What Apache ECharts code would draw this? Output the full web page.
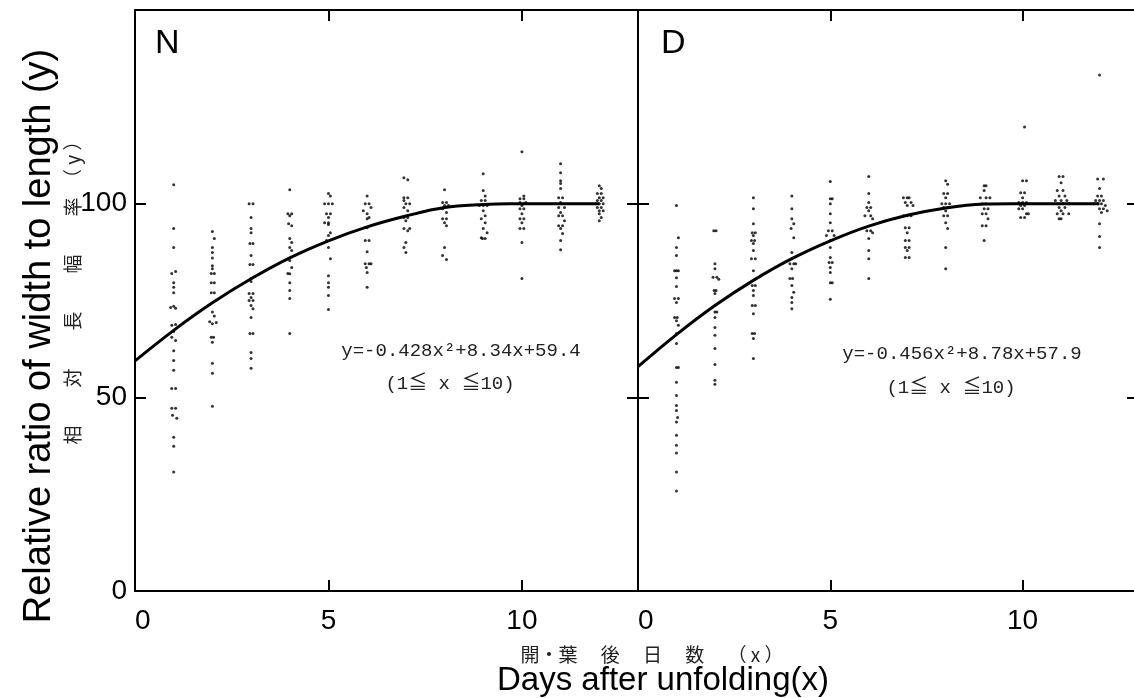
<!DOCTYPE html>
<html>
<head>
<meta charset="utf-8">
<script src="https://cdn.jsdelivr.net/npm/echarts@6/dist/echarts.min.js"></script>
<style>
html,body{margin:0;padding:0;background:#fff;}
#chart{width:1134px;height:698px;}
</style>
</head>
<body>
<div id="chart"></div>
<script>
// ---- data ----
const xTicks = [0, 5, 10];
const yTicks = [0, 50, 100];
const panelNames = ['N', 'D'];
const equations = ['y=-0.428x²+8.34x+59.4', 'y=-0.456x²+8.78x+57.9'];
const ranges = ['(1≦ x ≦10)', '(1≦ x ≦10)'];
const yTitleEn = 'Relative ratio of width to length (y)';
const yTitleJa = '相　　対　　長　　幅　　率　（ y ）';
const xTitleJa = '開・葉　 後　 日　 数　 （ x ）';
const xTitleEn = 'Days after unfolding(x)';

// fitted curves, read at each day
const curveDays = [0, 1, 2, 3, 4, 5, 6, 7, 8, 9, 9.7, 10, 11, 12];
const curveN = [59.4, 67.3, 74.4, 80.6, 86.0, 90.4, 94.0, 96.8, 99.0, 99.8, 100, 100, 100, 100];
const curveD = [57.9, 66.2, 73.7, 80.2, 85.8, 90.4, 94.2, 97.0, 98.9, 99.9, 100, 100, 100, 100];

// observations N  [day, ratio]
const pointsN = [
[1.0,104.9],[1.0,93.6],[1.0,88.7],[0.95,82],[1.05,82.5],[1.0,79.6],[1.0,78.4],[1.0,77],[0.92,73.2],[1.0,73.5],[1.05,73],[0.95,68.6],[1.05,68.8],[1.0,67],[0.95,65.5],[1.05,64.7],[1.0,62],[1.0,59.5],[1.0,57],[0.95,52.3],[1.05,52.3],[0.95,47.2],[1.05,47.2],[0.97,45.4],[1.08,44.6],[1.0,39.7],[1.0,37.4],[1.0,30.7],
[2.0,92.8],[2.05,91],[2.0,88.7],[2.0,87.4],[2.0,86],[2.0,84],[2.0,83.2],[1.97,82],[2.05,82],[1.97,79.6],[2.05,79.6],[1.97,77],[2.05,77],[2.0,72],[2.05,71],[1.93,69.5],[2.0,69],[2.1,69.3],[1.97,65.5],[2.03,65.5],[2.0,64.2],[2.0,58.8],[2.0,56.2],[2.0,47.7],
[2.95,100],[3.05,100],[3.0,96.4],[3.0,93.6],[3.0,92.5],[2.97,89.7],[3.05,89.7],[3.0,86.6],[2.97,84.3],[3.05,84.3],[3.0,80.7],[3.0,79.9],[2.95,76.8],[3.05,76.8],[3.0,75.8],[2.95,75],[3.05,75],[3.0,73.7],[3.05,72.9],[3.0,70.6],[2.97,66.5],[3.05,66.5],[3.0,61.6],[3.0,60],[3.0,57.5],
[4.0,103.6],[3.95,97.4],[4.05,97.4],[4.0,96.9],[3.97,94.8],[4.05,94.3],[4.0,91],[4.05,90],[4.0,88.7],[4.05,87.9],[4.0,85.3],[4.05,83.5],[3.95,82],[4.0,81.9],[4.0,79.6],[4.0,77.6],[4.0,75.5],[4.0,66.5],
[5.0,102.6],[5.05,102],[4.9,100],[5.0,100],[5.1,100],[4.95,97.4],[5.05,97.4],[5.0,96.4],[4.9,95.1],[5.0,95.1],[5.0,94.6],[5.05,92.5],[5.0,91.8],[4.95,90.5],[5.0,88.7],[5.05,85.8],[5.0,81.4],[5.0,79.6],[5.0,78.4],[5.0,76.3],[5.0,72.7],
[6.0,102],[5.95,100],[6.05,100],[6.1,99],[5.9,98.2],[6.0,97.4],[6.05,96.4],[6.0,96.1],[6.0,93.8],[6.05,90.5],[5.95,90.5],[6.0,87.6],[5.95,84.5],[6.05,84.5],[6.1,84.5],[5.98,83.5],[6.0,82.2],[6.0,78.4],
[6.95,106.7],[7.05,106.2],[6.95,101.5],[7.05,101.5],[6.95,100.8],[7.0,100],[7.1,100],[6.95,99],[7.05,98.2],[6.95,96.4],[7.05,96.4],[7.0,95.6],[6.95,93.6],[7.05,93],[7.1,93.6],[7.0,90],[6.95,88.7],[7.0,87.4],
[8.0,103.6],[7.95,100.3],[8.05,100.3],[8.0,99.5],[8.1,99.5],[7.95,98.7],[8.05,97.7],[7.95,96.1],[8.05,96.1],[8.0,95.1],[8.05,94.3],[8.0,88.7],[7.95,86.6],[8.05,85.6],
[9.0,107.7],[9.0,103.4],[9.05,102],[8.95,100.8],[9.05,100.8],[8.9,99.5],[9.0,99.5],[9.1,99.5],[9.0,98.2],[9.05,96.9],[8.95,96.1],[9.05,95.1],[9.0,93.6],[9.1,92.5],[8.95,91.2],[9.05,91],[8.98,91],
[10.0,113.4],[10.05,102],[9.95,101.3],[10.05,101.3],[9.95,100.3],[10.1,100.3],[10.0,99.5],[9.95,98.7],[10.05,98.7],[10.0,97.4],[9.95,96.1],[10.05,96.1],[10.0,95.1],[9.95,93.6],[10.05,93.6],[10.0,90],[10.0,80.7],
[11.0,110.3],[11.0,108],[11.0,105.9],[11.0,105.2],[11.0,103.9],[10.95,101.5],[11.05,101.5],[11.0,100.3],[10.95,99],[11.1,99],[11.0,97.7],[10.95,96.9],[11.05,96.9],[11.1,95.6],[10.95,94.3],[11.05,94.3],[11.0,93.6],[11.05,92.3],[11.0,90.5],[11.0,88.1],
[12.0,104.6],[12.05,103.9],[11.95,102.6],[12.05,102.6],[12.0,101.5],[12.1,101.5],[11.95,100.8],[12.05,100.8],[11.9,100],[12.0,100],[12.1,100],[11.95,99],[12.05,99],[12.0,98.2],[12.1,98.2],[12.0,97.4],[12.05,96.4],[12.0,95.6]
];

// observations D  [day, ratio]
const pointsD = [
[1.0,99.5],[1.05,91.2],[1.0,88.7],[1.0,86.6],[0.95,82.7],[1.0,82.7],[1.05,82.7],[1.0,80.9],[1.0,78.6],[0.95,75.5],[1.05,75.5],[1.0,74.5],[0.95,70.6],[1.02,70.6],[1.0,69.8],[1.05,68.6],[1.0,66.5],[1.0,63.9],[1.0,57.7],[1.05,57.7],[1.0,53.9],[1.0,50.5],[1.0,47.9],[1.0,46.6],[1.03,44.8],[1.0,43.6],[1.0,40.2],[1.0,37.6],[1.0,35.6],[1.0,30.7],[1.0,25.8],
[1.97,93],[2.03,93],[2.0,84.5],[2.0,83.2],[1.95,81],[2.05,81],[2.1,80.5],[1.98,77.6],[2.03,77.6],[2.0,76.8],[2.0,72],[2.05,72],[2.0,70.6],[2.0,68],[2.0,66],[2.0,62.6],[2.0,58.5],[2.0,54.4],[2.0,53.4],
[3.0,101.5],[3.0,98.7],[3.0,94.8],[2.97,92.5],[3.05,92.5],[3.0,91.8],[2.95,90.5],[3.03,90.5],[3.0,89.7],[3.0,87.9],[2.95,85.8],[3.05,85.8],[3.0,82.7],[2.97,78.9],[3.05,78.9],[3.0,77.6],[3.0,76.3],[2.97,73.7],[3.05,73.7],[3.0,71.6],[2.97,66.5],[3.03,66.5],[3.0,65.2],[3.0,60],
[4.0,102],[4.0,98.7],[4.0,96.1],[4.05,94.8],[3.98,93.6],[4.05,91.2],[4.0,87.4],[4.0,85.8],[3.95,84.5],[4.05,84.5],[4.1,84.5],[4.0,83.2],[3.95,80.7],[4.02,80.7],[4.0,78.9],[4.05,77.1],[4.0,75.8],[4.0,74.5],[4.0,72.9],
[5.0,105.7],[5.0,101.3],[5.05,101.3],[5.0,100],[5.0,97.4],[5.0,95.1],[4.95,93],[5.05,93],[4.9,91.8],[5.1,91.8],[5.0,90.5],[5.0,88.7],[5.0,86.1],[4.97,84.8],[5.05,84.8],[5.0,83.5],[5.0,82.2],[5.0,79.6],[5.05,79.6],[5.0,75.3],
[6.0,107],[6.0,102.6],[6.0,100.3],[5.95,99],[6.05,99],[6.0,98.2],[5.9,96.9],[6.05,96.9],[6.1,96.1],[5.95,93],[6.05,93],[6.1,92.5],[6.0,91],[6.0,87.9],[6.0,85.8],[6.0,80.7],
[6.9,101.5],[7.0,101.5],[7.05,101.5],[6.95,100.3],[7.1,100.3],[7.0,99.5],[7.15,99.5],[6.9,96.9],[7.0,96.9],[7.1,96.9],[6.95,93.8],[7.05,93.8],[7.0,92.5],[6.95,90.5],[7.05,90.5],[6.95,88.7],[7.05,88.7],[7.0,87.9],[6.95,86.1],[7.05,86.1],
[8.0,105.9],[8.05,105],[7.95,102.6],[8.05,102.6],[8.0,101.5],[7.9,100],[8.0,100],[8.1,100],[7.95,99],[8.05,99],[8.0,98.2],[7.95,96.9],[8.05,96.9],[8.0,95.1],[8.05,93.6],[8.0,88.7],[8.0,83.2],
[9.0,104.6],[9.05,104.6],[9.0,103.4],[8.9,101.5],[9.05,101.5],[9.15,101.5],[8.95,100],[9.05,100],[9.0,98.7],[9.1,98.7],[8.95,97.4],[9.05,97.4],[9.1,96.1],[8.95,94.3],[9.05,94.3],[9.0,90.5],
[10.05,119.8],[10.0,105.9],[10.1,105.9],[9.95,102.8],[10.05,102.8],[10.0,101.5],[9.9,100.3],[10.0,100.3],[10.1,100.3],[9.95,99.5],[10.05,99.5],[9.9,98.7],[10.0,98.7],[10.1,97.4],[9.95,96.4],[10.05,96.4],[10.15,97.4],
[10.95,107],[11.05,107],[11.0,105.4],[10.9,103.4],[11.05,103.4],[11.1,102],[10.95,102],[10.85,100.8],[11.0,100.8],[11.15,100.8],[10.9,100],[11.05,100],[11.2,100],[10.95,99],[11.1,99],[11.0,98.2],[10.9,97.4],[11.05,97.4],[11.2,97.4],[11.0,96.1],[10.95,96.1],
[12.0,133.2],[11.95,106.4],[12.1,106.4],[12.0,103.9],[11.95,102],[12.05,102],[11.9,100.8],[12.0,100.8],[12.1,100.8],[11.85,100],[11.95,100],[12.05,100],[12.15,99.5],[12.0,98.7],[12.1,98.7],[12.05,97.7],[12.2,98.2],[12.0,94.8],[12.0,91.5],[12.0,88.7]
];

// ---- chart ----
const FONT = '"Liberation Sans", Arial, sans-serif';
const chart = echarts.init(document.getElementById('chart'), null, {renderer: 'canvas'});

const axisLine = {show: true, onZero: false, lineStyle: {color: '#000', width: 2}};
const tick = {show: true, inside: true, length: 11, lineStyle: {color: '#000', width: 2}};

function xAx(grid, pos, labels) {
  return {
    type: 'value', gridIndex: grid, position: pos, min: 0, max: 13, interval: 5,
    axisLine: axisLine, axisTick: tick, splitLine: {show: false},
    axisLabel: labels ? {show: true, fontSize: 28, fontFamily: FONT, color: '#000', margin: 16,
      showMaxLabel: false, alignMinLabel: 'left',
      formatter: v => xTicks.includes(v) ? String(v) : ''} : {show: false}
  };
}
function yAx(grid, pos, labels) {
  return {
    type: 'value', gridIndex: grid, position: pos, min: 0, max: 150, interval: 50,
    axisLine: axisLine, axisTick: tick, splitLine: {show: false},
    axisLabel: labels ? {show: true, fontSize: 28, fontFamily: FONT, color: '#000', margin: 8,
      showMaxLabel: false, formatter: v => yTicks.includes(v) ? String(v) : ''} : {show: false}
  };
}

function toPairs(xs, ys) { return xs.map((x, i) => [x, ys[i]]); }

const option = {
  animation: false,
  backgroundColor: '#fff',
  grid: [
    {left: 135, top: 10, width: 503, height: 581, outerBoundsMode: 'none', containLabel: false},
    {left: 638, top: 10, width: 500, height: 581, outerBoundsMode: 'none', containLabel: false}
  ],
  xAxis: [xAx(0, 'bottom', true), xAx(0, 'top', false), xAx(1, 'bottom', true), xAx(1, 'top', false)],
  yAxis: [yAx(0, 'left', true), yAx(0, 'right', false), yAx(1, 'left', false), yAx(1, 'right', false)],
  series: [
    {type: 'scatter', xAxisIndex: 0, yAxisIndex: 0, data: pointsN, symbol: 'circle', symbolSize: 3,
      itemStyle: {color: '#000'}, silent: true},
    {type: 'scatter', xAxisIndex: 2, yAxisIndex: 2, data: pointsD, symbol: 'circle', symbolSize: 3,
      itemStyle: {color: '#000'}, silent: true},
    {type: 'line', xAxisIndex: 0, yAxisIndex: 0, data: toPairs(curveDays, curveN), smooth: 0.4,
      showSymbol: false, lineStyle: {color: '#000', width: 3}, silent: true},
    {type: 'line', xAxisIndex: 2, yAxisIndex: 2, data: toPairs(curveDays, curveD), smooth: 0.4,
      showSymbol: false, lineStyle: {color: '#000', width: 3}, silent: true}
  ],
  graphic: [
    {type: 'text', x: 155, y: 44, style: {text: panelNames[0], font: '34px ' + FONT, fill: '#000', textAlign: 'left', textVerticalAlign: 'middle'}},
    {type: 'text', x: 661, y: 44, style: {text: panelNames[1], font: '34px ' + FONT, fill: '#000', textAlign: 'left', textVerticalAlign: 'middle'}},
    {type: 'text', x: 461, y: 351, style: {text: equations[0], font: '19px "Liberation Mono", monospace', fill: '#222', textAlign: 'center', textVerticalAlign: 'middle'}},
    {type: 'text', x: 450, y: 384, style: {text: ranges[0], font: '19px "Liberation Mono", "Noto Sans CJK JP", monospace', fill: '#222', textAlign: 'center', textVerticalAlign: 'middle'}},
    {type: 'text', x: 962, y: 354, style: {text: equations[1], font: '19px "Liberation Mono", monospace', fill: '#222', textAlign: 'center', textVerticalAlign: 'middle'}},
    {type: 'text', x: 951, y: 388, style: {text: ranges[1], font: '19px "Liberation Mono", "Noto Sans CJK JP", monospace', fill: '#222', textAlign: 'center', textVerticalAlign: 'middle'}},
    {type: 'text', x: 40, y: 336, rotation: Math.PI / 2, style: {text: yTitleEn, font: '38px ' + FONT, fill: '#000', textAlign: 'center', textVerticalAlign: 'middle'}},
    {type: 'text', x: 73, y: 288, rotation: Math.PI / 2, style: {text: yTitleJa, font: '19px "Noto Sans CJK JP"', fill: '#222', textAlign: 'center', textVerticalAlign: 'middle'}},
    {type: 'text', x: 652, y: 655, style: {text: xTitleJa, font: '19px "Noto Sans CJK JP"', fill: '#222', textAlign: 'center', textVerticalAlign: 'middle'}},
    {type: 'text', x: 663, y: 681, style: {text: xTitleEn, font: '33px ' + FONT, fill: '#000', textAlign: 'center', textVerticalAlign: 'middle'}}
  ]
};
chart.setOption(option);
</script>
</body>
</html>
